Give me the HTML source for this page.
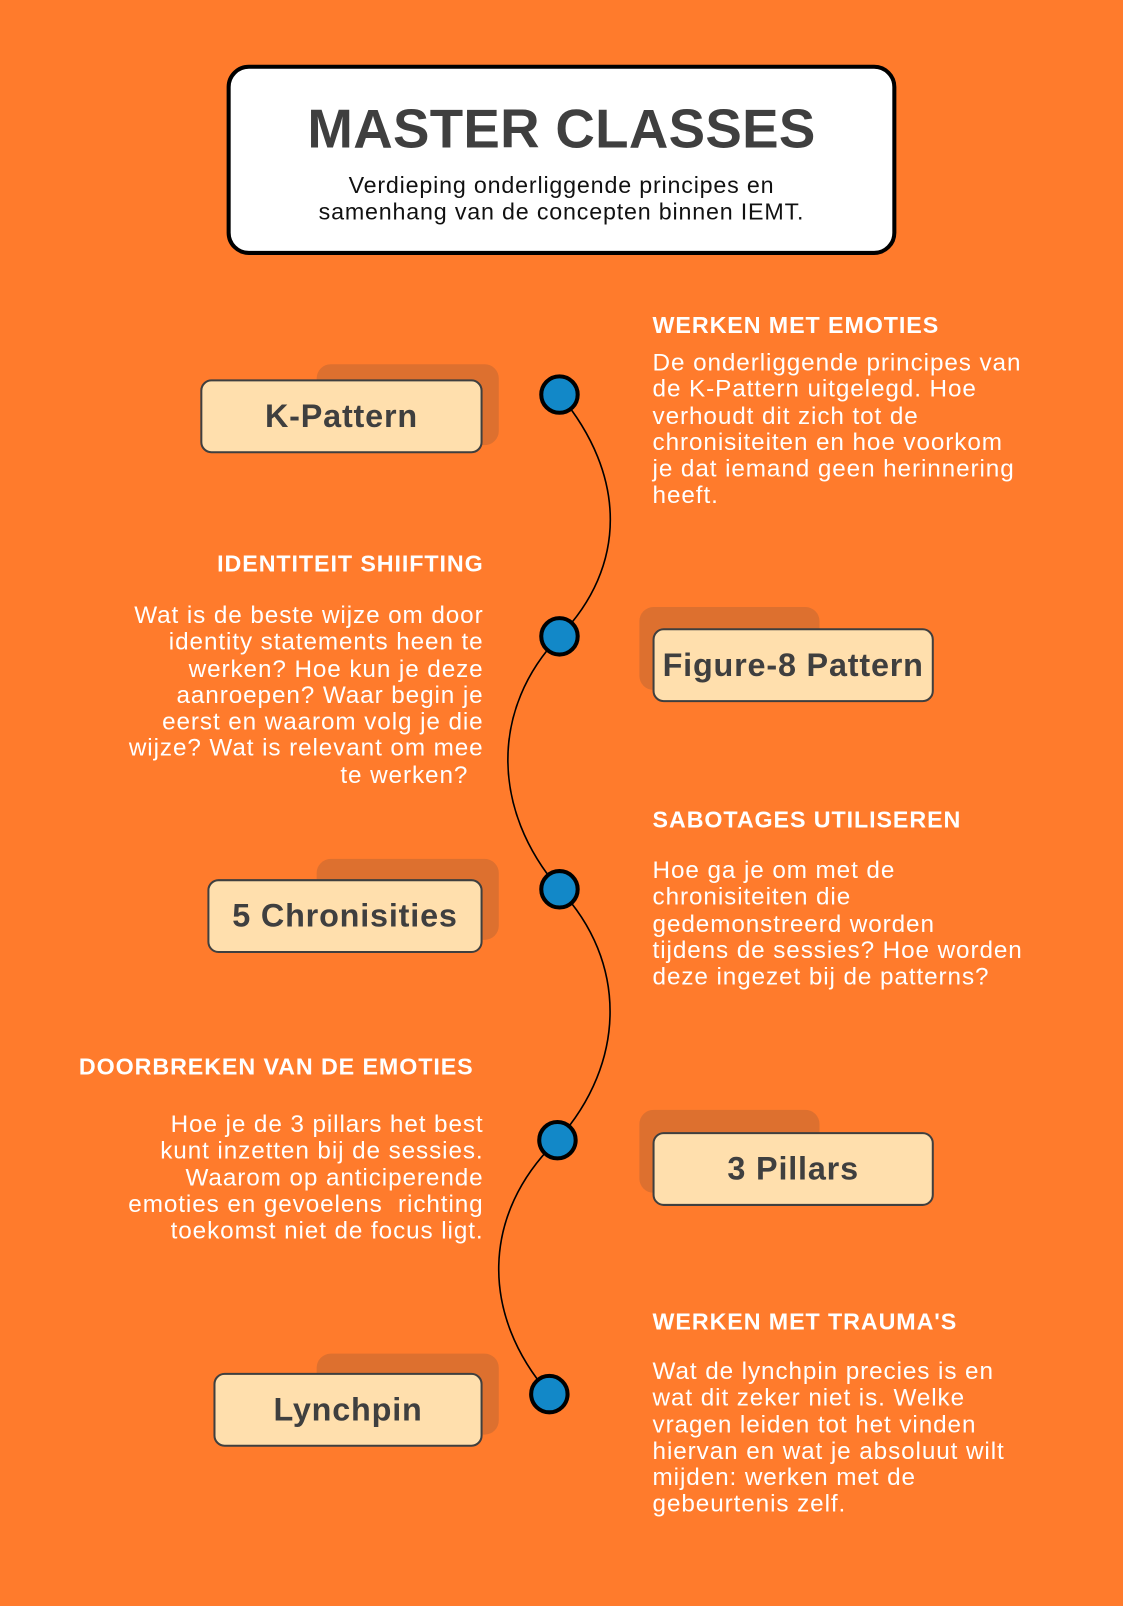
<!DOCTYPE html>
<html><head><meta charset="utf-8"><style>
body{margin:0;width:1123px;height:1587px;background:#ff7b2c;position:relative;overflow:hidden;font-family:"Liberation Sans",sans-serif}
#w{position:absolute;left:0;top:0;width:1110px;height:1568px;transform:scale(1.0117);transform-origin:0 0}
.a{position:absolute}
.hdr{left:224px;top:64px;width:654px;height:180px;border:4px solid #000;border-radius:22px;background:#fff;text-align:center}
.hdr h1{margin:28px 0 0;font-size:54px;font-weight:bold;color:#3f3f3f;letter-spacing:0.3px;line-height:64px}
.hdr p{margin:10px 0 0;font-size:23px;line-height:26px;color:#111;letter-spacing:0.8px}
.sh{background:#dd702f;border-radius:14px}
.bx{background:#ffdfad;border:2px solid #3f3f3f;border-radius:11px;box-sizing:border-box;display:flex;align-items:center;justify-content:center;font-size:32px;font-weight:bold;color:#3f3f3f;letter-spacing:0.8px}
.h{color:#fff;font-weight:bold;font-size:23px;line-height:26px;white-space:nowrap;letter-spacing:0.9px}
.t{color:#fff;font-size:24px;line-height:26.3px;white-space:nowrap;letter-spacing:0.9px}
.r{text-align:right}
</style></head><body><div id="w">
<div class="a hdr"><h1>MASTER CLASSES</h1><p>Verdieping onderliggende principes en<br>samenhang van de concepten binnen IEMT.</p></div>

<svg class="a" style="left:0;top:0" width="1123" height="1587">
<path d="M553 390 C620 470,620 560,553 629 C485 700,485 800,553 879 C620 950,620 1050,551 1127 C475 1200,475 1300,543 1378" fill="none" stroke="#000" stroke-width="1.6"/>
<g fill="#1288c8" stroke="#000" stroke-width="4">
<circle cx="553" cy="390" r="18"/><circle cx="553" cy="629" r="18"/><circle cx="553" cy="879" r="18"/><circle cx="551" cy="1127" r="18"/><circle cx="543" cy="1378" r="18"/>
</g></svg>

<div class="a sh" style="left:313px;top:360px;width:180px;height:80px"></div>
<div class="a bx" style="left:198px;top:375px;width:279px;height:73px">K-Pattern</div>
<div class="a sh" style="left:632px;top:600px;width:178px;height:82px"></div>
<div class="a bx" style="left:645px;top:621px;width:278px;height:73px">Figure-8 Pattern</div>
<div class="a sh" style="left:313px;top:849px;width:180px;height:80px"></div>
<div class="a bx" style="left:205px;top:869px;width:272px;height:73px">5 Chronisities</div>
<div class="a sh" style="left:632px;top:1097px;width:178px;height:82px"></div>
<div class="a bx" style="left:645px;top:1119px;width:278px;height:73px">3 Pillars</div>
<div class="a sh" style="left:313px;top:1338px;width:180px;height:80px"></div>
<div class="a bx" style="left:211px;top:1357px;width:266px;height:73px">Lynchpin</div>

<div class="a h" style="left:645px;top:308px">WERKEN MET EMOTIES</div>
<div class="a t" style="left:645px;top:346px">De onderliggende principes van<br>de K-Pattern uitgelegd. Hoe<br>verhoudt dit zich tot de<br>chronisiteiten en hoe voorkom<br>je dat iemand geen herinnering<br>heeft.</div>

<div class="a h" style="left:0;width:478px;text-align:right;top:544px">IDENTITEIT SHIIFTING</div>
<div class="a t r" style="left:0;width:478px;top:596px">Wat is de beste wijze om door<br>identity statements heen te<br>werken? Hoe kun je deze<br>aanroepen? Waar begin je<br>eerst en waarom volg je die<br>wijze? Wat is relevant om mee<br>te werken?&nbsp;&nbsp;</div>

<div class="a h" style="left:645px;top:797px">SABOTAGES UTILISEREN</div>
<div class="a t" style="left:645px;top:848px">Hoe ga je om met de<br>chronisiteiten die<br>gedemonstreerd worden<br>tijdens de sessies? Hoe worden<br>deze ingezet bij de patterns?</div>

<div class="a h" style="left:78px;top:1041px">DOORBREKEN VAN DE EMOTIES</div>
<div class="a t r" style="left:0;width:478px;top:1099px">Hoe je de 3 pillars het best<br>kunt inzetten bij de sessies.<br>Waarom op anticiperende<br>emoties en gevoelens&nbsp; richting<br>toekomst niet de focus ligt.</div>

<div class="a h" style="left:645px;top:1293px">WERKEN MET TRAUMA'S</div>
<div class="a t" style="left:645px;top:1343px">Wat de lynchpin precies is en<br>wat dit zeker niet is. Welke<br>vragen leiden tot het vinden<br>hiervan en wat je absoluut wilt<br>mijden: werken met de<br>gebeurtenis zelf.</div>
</div></body></html>
